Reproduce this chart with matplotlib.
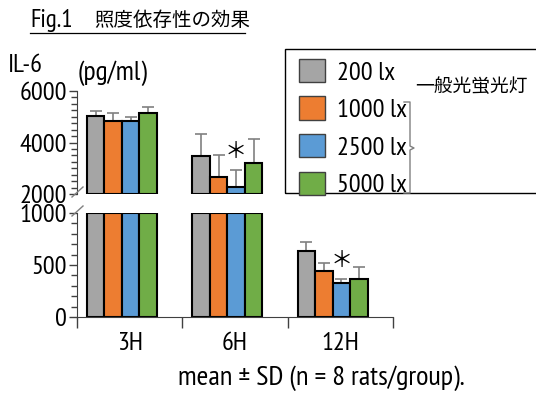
import matplotlib
matplotlib.use('Agg')
import matplotlib.pyplot as plt
from matplotlib.patches import Patch, Rectangle
from matplotlib.lines import Line2D
from matplotlib.ticker import MultipleLocator, FixedLocator, NullFormatter
import numpy as np

plt.rcParams['font.family'] = ['PT Sans Narrow', 'Noto Sans CJK JP', 'DejaVu Sans']

# data (IL-6, pg/ml)
times = ['3H', '6H', '12H']
groups = ['200 lx', '1000 lx', '2500 lx', '5000 lx']
mean_200 = [5040, 3490, 638]
mean_1000 = [4835, 2670, 445]
mean_2500 = [4835, 2285, 330]
mean_5000 = [5155, 3215, 362]
sd_200 = [195, 840, 86]
sd_1000 = [300, 845, 71]
sd_2500 = [170, 650, 38]
sd_5000 = [235, 910, 116]
signif = [(1, 2), (2, 2)]  # (time index, group index) marked with an asterisk
bracket_label = '一般光蛍光灯'

colors = ['#A5A5A5', '#ED7D31', '#5B9BD5', '#70AD47']
means = [mean_200, mean_1000, mean_2500, mean_5000]
sds = [sd_200, sd_1000, sd_2500, sd_5000]

W, H = 536, 399
fig = plt.figure(figsize=(W / 100, H / 100), dpi=100)

def fx(px):
    return px / W

def fy(py):
    return 1 - py / H

ax_lo = fig.add_axes([fx(77), fy(317), fx(393) - fx(77), fy(213) - fy(317)])
ax_hi = fig.add_axes([fx(77), fy(194), fx(393) - fx(77), fy(91) - fy(194)])

LO_TOP = 1000
HI_BOT, HI_TOP = 2000, 6000
bw = 0.166
x = np.arange(len(times))
axis_col = '#404040'
fs = 19

for i in range(4):
    m = np.array(means[i], dtype=float)
    s = np.array(sds[i], dtype=float)
    pos = x - 0.322 + i * bw
    # lower panel
    ax_lo.errorbar(pos, m, yerr=[np.zeros_like(s), s], fmt='none', ecolor='#808080',
                   elinewidth=1.2, capsize=4, capthick=1.2, zorder=1)
    ax_lo.bar(pos, np.minimum(m, LO_TOP), bw, color=colors[i], edgecolor='black',
              linewidth=1.5, zorder=2)
    # upper panel
    keep = m > HI_BOT
    ax_hi.errorbar(pos[keep], m[keep], yerr=[np.zeros(keep.sum()), s[keep]], fmt='none',
                   ecolor='#808080', elinewidth=1.2, capsize=4, capthick=1.2, zorder=1)
    ax_hi.bar(pos[keep], m[keep] - HI_BOT, bw, bottom=HI_BOT, color=colors[i],
              edgecolor='black', linewidth=1.5, zorder=2)

for t, g in signif:
    y = means[g][t] + sds[g][t]
    target = ax_hi if means[g][t] > HI_BOT else ax_lo
    target.annotate('＊', (x[t] - 0.322 + g * bw, y), xytext=(0, 13), textcoords='offset points',
                    ha='center', va='center', fontsize=16, family='Noto Sans CJK JP')

for a in (ax_lo, ax_hi):
    a.set_xlim(-0.5, 2.5)
    a.spines['top'].set_visible(False)
    a.spines['right'].set_visible(False)
    a.spines['left'].set_color(axis_col)
    a.spines['bottom'].set_color(axis_col)
    a.tick_params(axis='y', which='major', length=6, width=1, color=axis_col,
                  labelsize=fs, pad=1)
    a.tick_params(axis='y', which='minor', length=4, width=1, color=axis_col)
    a.patch.set_alpha(0)

ax_lo.set_ylim(0, LO_TOP)
ax_lo.set_yticks([0, 500, 1000])
ax_lo.yaxis.set_minor_locator(MultipleLocator(100))
ax_lo.xaxis.set_major_locator(FixedLocator([-0.5, 0.5, 1.5, 2.5]))
ax_lo.xaxis.set_major_formatter(NullFormatter())
ax_lo.xaxis.set_minor_locator(FixedLocator(x))
ax_lo.set_xticklabels(times, minor=True)
ax_lo.tick_params(axis='x', which='major', length=8, width=1, color=axis_col)
ax_lo.tick_params(axis='x', which='minor', length=0, labelsize=fs, pad=11)

ax_hi.set_ylim(HI_BOT, HI_TOP)
ax_hi.set_yticks([2000, 4000, 6000])
ax_hi.yaxis.set_minor_locator(MultipleLocator(250))
ax_hi.spines['bottom'].set_visible(False)
ax_hi.set_xticks([])

# break marks
for y0 in (197, 216):
    fig.add_artist(Line2D([fx(72), fx(83)], [fy(y0), fy(y0 - 10)], color='#808080', lw=1))

# titles / labels
fig.text(fx(30), fy(20), 'Fig.1', fontsize=18, va='center', ha='left')
fig.text(fx(94), fy(20), '照度依存性の効果', fontsize=14, va='center', ha='left',
         family='Noto Sans CJK JP')
fig.add_artist(Line2D([fx(30), fx(245)], [fy(33), fy(33)], color='black', lw=0.9))
fig.text(fx(8), fy(65), 'IL-6', fontsize=fs, va='center', ha='left')
fig.text(fx(78), fy(73), '(pg/ml)', fontsize=20, va='center', ha='left')
fig.text(fx(178), fy(378), 'mean ± SD (n = 8 rats/group).', fontsize=20.5, va='center', ha='left')

# legend
fig.add_artist(Rectangle((fx(285), fy(193)), fx(560) - fx(285), fy(49) - fy(193),
                         fill=False, edgecolor='black', lw=1))
handles = [Patch(facecolor=c, edgecolor='#404040', lw=1) for c in colors]
fig.legend(handles, groups, loc='upper left', bbox_to_anchor=(fx(283), fy(43)),
           frameon=False, fontsize=fs, handlelength=0.98, handleheight=0.98,
           handletextpad=0.45, labelspacing=0.45, borderpad=0.1)
fig.text(fx(415), fy(87), bracket_label, fontsize=13.5, va='center', ha='left',
         family='Noto Sans CJK JP')
bx = [fx(404), fx(410), fx(410), fx(414), fx(410), fx(410), fx(404)]
by = [fy(102), fy(102), fy(146), fy(148), fy(150), fy(193), fy(193)]
fig.add_artist(Line2D(bx, by, color='#808080', lw=1))

fig.savefig('out.png', dpi=100)
